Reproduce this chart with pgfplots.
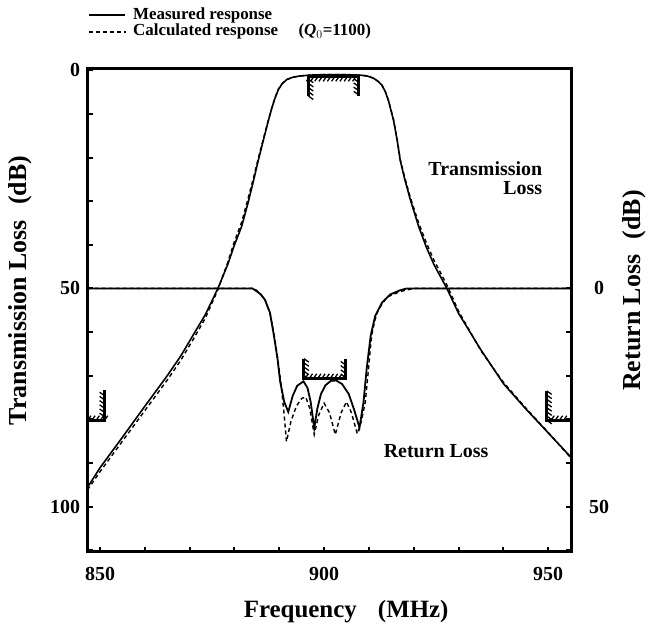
\documentclass[border=0pt]{standalone}
\usepackage{fontspec}
\setmainfont{Liberation Serif}
\usepackage{pgfplots}
\pgfplotsset{compat=1.18}
\usetikzlibrary{decorations.pathreplacing}

\pgfplotstableread{
f tl
847.2 95.6
850 91.1
855 84.1
860 77.0
865 70.0
868 65.5
871 60.3
873.5 56.0
876.3 50.0
878.5 44.5
880 40.0
881.6 35.8
883 30.5
884.2 25.5
885.3 20.7
886.5 15.8
887.5 11.8
888.3 8.8
889.0 6.5
889.8 4.4
890.7 3.0
891.7 2.1
893 1.6
894.6 1.3
897 1.1
900 1.0
905 1.0
908 1.1
909.6 1.3
911.0 1.8
912.0 2.5
912.9 3.4
913.7 5.0
914.4 7.1
915.5 11.5
916.3 16.0
917.0 20.7
918.0 25.0
919.2 29.5
921.1 35.8
922.8 40.5
924.5 44.5
927.4 50.0
930 55.7
935 64.1
940 71.8
945 77.6
950 83.1
955.1 88.7
}\tlmeas

\pgfplotstableread{
f tl
847.2 96.2
850 92.0
855 85.0
860 78.0
865 71.0
868 66.5
871 61.3
873.5 56.8
876.3 50.3
878.5 44.0
880 39.2
881.6 34.8
883 29.5
884.2 24.8
885.3 20.2
886.5 15.5
887.5 11.6
888.3 8.7
889.0 6.4
889.8 4.3
890.7 3.0
891.7 2.1
893 1.6
894.6 1.3
897 1.1
900 1.0
905 1.0
908 1.1
909.6 1.3
911.0 1.8
912.0 2.5
912.9 3.4
913.7 5.0
914.4 7.0
915.5 11.3
916.3 15.8
917.0 20.5
918.0 24.6
919.2 29.0
921.1 35.0
922.8 39.5
924.5 43.5
927.4 49.2
930 55.2
935 64.3
940 71.5
945 77.4
950 83.0
955.1 88.9
}\tlcalc

\pgfplotstableread{
f rl
847.2 0
884.0 0
884.6 0.4
885.8 1.3
886.8 2.6
887.9 5.5
888.8 10.8
889.6 16.1
890.2 21.4
891.1 26.0
892.0 28.3
893.0 24.6
894.0 22.3
895.4 21.3
896.3 22.8
897.0 26.0
897.8 32.0
898.5 27.5
899.3 24.2
900.3 22.2
901.5 21.2
902.7 21.1
904.0 21.9
905.5 24.2
906.7 27.8
907.9 31.9
908.8 26.0
909.5 18.4
910.4 10.8
911.4 6.3
912.9 3.3
914.7 1.4
917.0 0.4
918.5 0
955.1 0
}\rlmeas

\pgfplotstableread{
f rl
847.2 0
884.3 0
885.0 0.5
886.0 1.5
887.0 3.0
888.0 6.0
888.9 11.0
889.7 16.5
890.4 22.0
891.0 28.0
891.6 35.1
892.6 30.5
893.8 27.0
895.0 25.2
895.9 24.9
896.8 27.5
897.8 33.5
898.8 29.0
900.0 26.3
901.2 28.5
902.5 33.5
903.8 28.5
905.0 26.0
906.1 28.5
907.4 33.3
908.3 30.5
909.2 26.0
909.9 18.5
910.6 10.8
911.4 7.0
912.1 4.9
914.0 2.0
917.0 0.7
920.0 0
955.1 0
}\rlcalc

\begin{document}
\begin{tikzpicture}[x=1bp,y=1bp]
\useasboundingbox (0,0) rectangle (650,634);
\pgfplotsset{
  mask/.style={line width=3bp, black, line join=miter,
    postaction={draw, line width=1.3bp, decorate,
    decoration={border, segment length=4.2bp, amplitude=#1, angle=55}}},
  common/.style={
    at={(87.5bp,82.5bp)}, anchor=south west,
    scale only axis, width=483.5bp, height=482.5bp,
    xmin=847.2, xmax=955.1, y dir=reverse, clip=false,
    axis line style={line width=3bp},
    tick align=inside, major tick length=5bp, minor tick length=5bp,
    every tick/.style={line width=2bp, black},
    tick label style={font=\fontsize{20}{20}\selectfont\bfseries},
    /pgf/number format/assume math mode=true,
    /pgf/number format/1000 sep={},
  }
}
\begin{axis}[common,
  ymin=-0.3, ymax=110.3,
  xtick={850,900,950}, minor xtick={860,870,880,890,910,920,930,940},
  ytick={0,50,100}, minor ytick={10,20,30,40,60,70,80,90,110},
  xtick pos=bottom, ytick pos=left,
  xticklabel style={yshift=-12bp},
  yticklabel style={xshift=-4bp},
]
\addplot[black, line width=1.4bp, dash pattern=on 4bp off 3bp] table[x=f,y=tl]{\tlcalc};
\addplot[black, line width=1.6bp] table[x=f,y=tl]{\tlmeas};
% passband mask
\addplot[mask=-6bp] coordinates {(896.5,5.9) (896.5,1.4) (907.7,1.4) (907.7,5.9)};
% stopband masks
\addplot[mask=6bp] coordinates {(847.2,80.3) (851.0,80.3) (851.0,73.3)};
\addplot[mask=6bp] coordinates {(949.7,73.5) (949.7,80.3) (955.1,80.3)};

\node[font=\fontsize{20}{20}\selectfont\bfseries, align=right, anchor=north east, inner sep=0pt] at (axis cs:948.7,20.8) {Transmission\\Loss};
\node[font=\fontsize{20}{20}\selectfont\bfseries, anchor=center, inner sep=0pt] at (axis cs:925,87.3) {Return Loss};

\node[font=\fontsize{25}{25}\selectfont\bfseries] at (axis description cs:0.535,-0.124) {Frequency\hspace{0.85em}(MHz)};
\node[font=\fontsize{26}{26}\selectfont\bfseries, rotate=90] at (axis description cs:-0.14,0.541) {Transmission Loss\hspace{0.6em}(dB)};
\node[font=\fontsize{26}{26}\selectfont\bfseries, rotate=90] at (axis description cs:1.13,0.541) {Return Loss\hspace{0.6em}(dB)};

% legend
\draw[line width=1.4bp] (axis description cs:0.003,1.112) -- (axis description cs:0.078,1.112);
\draw[line width=1.4bp, dash pattern=on 4bp off 3bp] (axis description cs:0.003,1.077) -- (axis description cs:0.080,1.077);
\node[font=\fontsize{17}{17}\selectfont\bfseries, anchor=west, inner sep=0pt] at (axis description cs:0.094,1.112) {Measured response};
\node[font=\fontsize{17}{17}\selectfont\bfseries, anchor=west, inner sep=0pt] at (axis description cs:0.094,1.077) {Calculated response\hspace{1.2em}(\textit{Q}$_0$=1100)};
\end{axis}

\begin{axis}[common,
  ymin=-50.3, ymax=60.3,
  axis x line=none, axis y line*=right,
  ytick={0,50}, minor ytick={10,20,30,40,60},
  yticklabel style={anchor=center, xshift=28bp},
]
\addplot[black, line width=1.4bp, dash pattern=on 4bp off 3bp] table[x=f,y=rl]{\rlcalc};
\addplot[black, line width=1.8bp] table[x=f,y=rl]{\rlmeas};
\addplot[mask=6bp] coordinates {(895.5,16.1) (895.5,20.7) (904.8,20.7) (904.8,16.1)};
\end{axis}
\end{tikzpicture}
\end{document}
